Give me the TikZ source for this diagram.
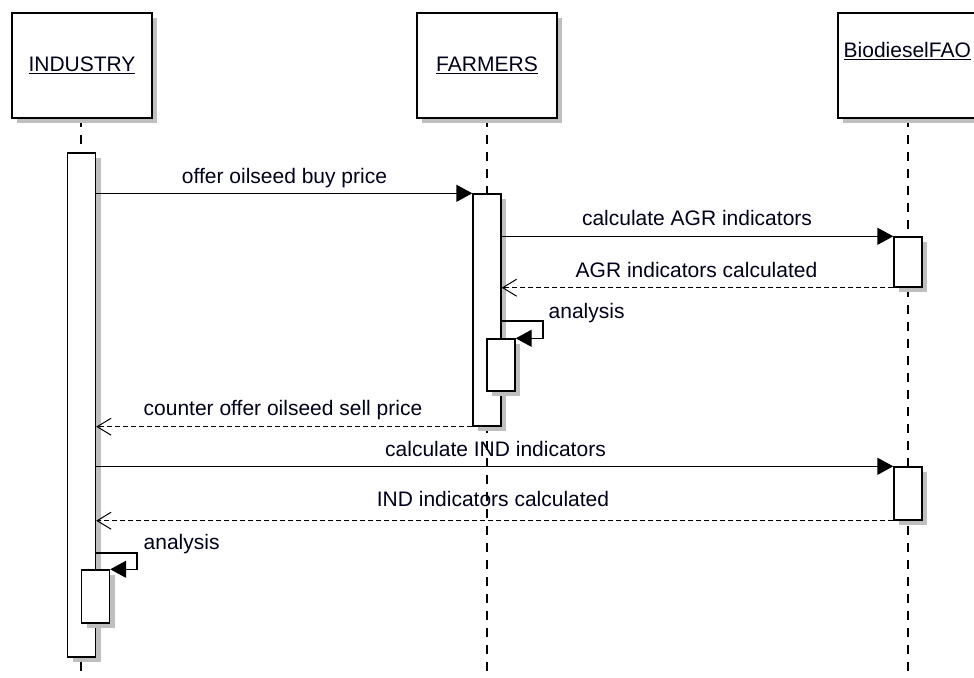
\documentclass[tikz,border=0pt]{standalone}
\usepackage{fontspec}
\setmainfont{Liberation Sans}
\usetikzlibrary{arrows.meta,shadows}
\begin{document}
\begin{tikzpicture}[x=1pt,y=-1pt, line width=1.4pt,
  every node/.style={font=\fontsize{21}{25}\selectfont, text=black!90!blue},
  shade/.style={drop shadow={shadow xshift=5pt, shadow yshift=-5pt, fill=black!25, opacity=1}},
  actorbox/.style={draw, fill=white, shade, minimum width=140pt, minimum height=105pt, inner sep=0pt},
  bar/.style={draw, fill=white, shade, minimum width=28pt, inner sep=0pt},
  lifeline/.style={line width=1.4pt, dash pattern=on 9pt off 8pt},
  call/.style={-{Triangle[length=16pt,width=17pt]}},
  reply/.style={dash pattern=on 5pt off 3pt, -{Straight Barb[length=14pt,width=17pt,line width=1pt]}},
  lbl/.style={anchor=base, inner sep=0pt}
]
\useasboundingbox (0,0) rectangle (974,677);
% lifelines
\coordinate (indtop) at (81,118);
\coordinate (fartop) at (487,118);
\coordinate (biotop) at (908,118);
\draw[lifeline] (indtop) -- (81,677);
\draw[lifeline] (fartop) -- (487,677);
\draw[lifeline] (biotop) -- (908,677);
% actor boxes
\node[actorbox] (ind) at (82,65.5) {\underline{INDUSTRY}};
\node[actorbox] (far) at (487,65.5) {\underline{FARMERS}};
\node[actorbox] (bio) at (908,65.5) {};
\node[anchor=base west, inner sep=0pt] (biolbl) at (843,58) {\underline{BiodieselFAO}};
% activation bars
\node[bar, minimum height=504pt] (ib) at (81.5,405) {};
\node[bar, minimum height=232pt] (fb) at (487,310) {};
\node[bar, minimum height=50pt] (b1) at (908,262) {};
\node[bar, minimum height=53pt] (b2) at (908,493.5) {};
\node[bar, minimum height=52pt] (fn) at (501,365) {};
\node[bar, minimum height=53pt] (in) at (95.5,596.5) {};
% messages
\draw[call] (ib.east |- fb.north) -- (fb.north west);
\node[lbl] (m1) at (284.5,183) {offer oilseed buy price};
\draw[call] (fb.east |- b1.north) -- (b1.north west);
\node[lbl] (m2) at (697,225) {calculate AGR indicators};
\draw[reply] (b1.south west) -- (fb.east |- b1.south);
\node[lbl] (m3) at (696.5,277) {AGR indicators calculated};
\coordinate (fl) at (501,321);
\draw[call] (fl) -- ++(42,0) |- (fn.north east);
\node[anchor=base west, inner sep=0pt] (m4) at (548,318) {analysis};
\draw[reply] (fb.south west) -- (ib.east |- fb.south);
\node[lbl] (m5) at (283,415) {counter offer oilseed sell price};
\draw[call] (ib.east |- b2.north) -- (b2.north west);
\node[lbl] (m6) at (495.5,456) {calculate IND indicators};
\draw[reply] (b2.south west) -- (ib.east |- b2.south);
\node[lbl] (m7) at (493,506) {IND indicators calculated};
\coordinate (il) at (95.5,553);
\draw[call] (il) -- ++(41.5,0) |- (in.north east);
\node[anchor=base west, inner sep=0pt] (m8) at (143,549) {analysis};
\end{tikzpicture}
\end{document}
